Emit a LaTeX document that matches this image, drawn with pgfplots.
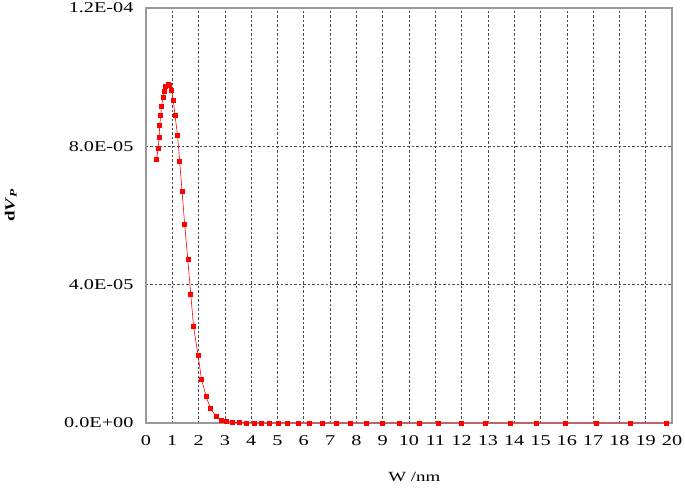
\documentclass[border=0pt]{standalone}
\usepackage{pgfplots}
\pgfplotsset{compat=1.18}
\usepackage{fontspec}
\setmainfont[FakeStretch=1.35]{Liberation Serif}

\begin{document}
\begin{tikzpicture}
\begin{axis}[
    scale only axis,
    width=526pt, height=415pt,
    xmin=0, xmax=20,
    ymin=0, ymax=1.2e-4,
    xtick={0,1,...,20},
    ytick={0,4e-5,8e-5,1.2e-4},
    yticklabels={0.0E+00,4.0E-05,8.0E-05,1.2E-04},
    scaled y ticks=false,
    axis line style={gray!80, line width=1.3pt},
    major tick length=0pt,
    grid=major,
    major grid style={dashed, black!70, line width=0.6pt, dash pattern=on 2.5pt off 2pt},
    tick label style={font=\fontsize{15}{17}\selectfont},
    /pgf/number format/assume math mode=true,
    xticklabel style={yshift=-9pt},
    yticklabel style={xshift=-9pt},
    xlabel={W /nm},
    ylabel={\bfseries d\textit{V}\textsubscript{\textit{P}}},
    xlabel style={font=\fontsize{14}{16}\selectfont, at={(axis description cs:0.51,-0.13)}, anchor=center},
    ylabel style={font=\fontsize{14}{16}\selectfont, at={(axis description cs:-0.257,0.525)}, anchor=center},
    clip=false,
]
\coordinate (o) at (rel axis cs:0,0);
\addplot[red, line width=0.6pt, mark=square*, mark size=2.0pt, mark options={solid, fill=red}] coordinates {
(0.40,7.63e-5) (0.46,7.93e-5) (0.50,8.26e-5) (0.52,8.60e-5) (0.56,8.89e-5)
(0.60,9.17e-5) (0.64,9.43e-5) (0.69,9.60e-5) (0.75,9.74e-5) (0.83,9.78e-5)
(0.90,9.76e-5) (0.97,9.62e-5) (1.04,9.33e-5) (1.10,8.91e-5) (1.20,8.32e-5)
(1.28,7.57e-5) (1.37,6.71e-5) (1.47,5.75e-5) (1.59,4.72e-5) (1.70,3.73e-5)
(1.81,2.79e-5) (1.98,1.96e-5) (2.11,1.26e-5) (2.29,0.76e-5) (2.45,0.42e-5)
(2.66,0.20e-5) (2.85,0.09e-5) (3.04,0.04e-5) (3.29,0.02e-5) (3.55,0.01e-5)
(3.82,0.005e-5) (4.10,0) (4.40,0) (4.70,0) (5.02,0) (5.38,0) (5.78,0)
(6.22,0) (6.70,0) (7.22,0) (7.78,0) (8.38,0) (8.99,0) (9.65,0) (10.41,0)
(11.13,0) (12.00,0) (12.89,0) (13.84,0) (14.85,0) (15.93,0) (17.13,0)
(18.40,0) (19.80,0)
};
\end{axis}
\pgfresetboundingbox
\path ([xshift=-146pt,yshift=-70pt]o) rectangle ([xshift=539pt,yshift=423pt]o);
\end{tikzpicture}
\end{document}
